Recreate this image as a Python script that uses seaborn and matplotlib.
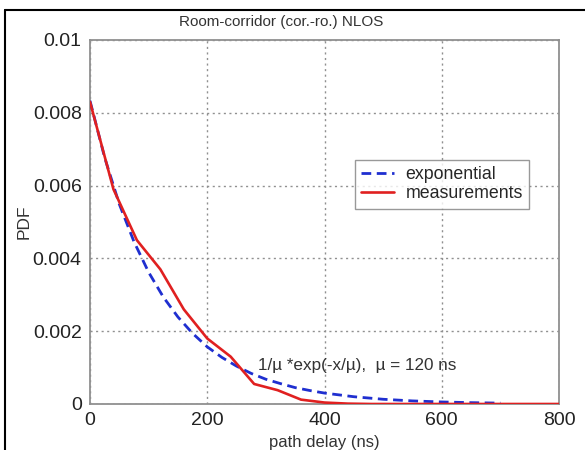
import numpy as np
import pandas as pd
import matplotlib
matplotlib.use("Agg")
import matplotlib.pyplot as plt
from matplotlib.lines import Line2D
import seaborn as sns

# ---- data ----
meas_x = [0, 40, 80, 120, 160, 200, 240, 280, 320, 360, 400, 440, 480, 520, 560, 600, 640, 680, 720, 760, 800]
meas_y = [0.0083, 0.0059, 0.0045, 0.0037, 0.0026, 0.0018, 0.0013, 0.00055, 0.00038, 0.00012,
          0.00004, 0.00001, 0, 0, 0, 0, 0, 0, 0, 0, 0]

expo_x = [0, 25, 50, 75, 100, 125, 150, 175, 200, 225, 250, 275, 300, 325, 350, 375, 400,
          450, 500, 550, 600, 650, 700]
expo_y = [0.00833, 0.00677, 0.00549, 0.00446, 0.00362, 0.00294, 0.00239, 0.00194, 0.00157,
          0.00128, 0.00104, 0.00084, 0.00068, 0.00056, 0.00045, 0.00037, 0.00030,
          0.00020, 0.00013, 0.000085, 0.000056, 0.000037, 0.000024]

x_ticks = [0, 200, 400, 600, 800]
y_ticks = [0, 0.002, 0.004, 0.006, 0.008, 0.01]
y_tick_labels = ["0", "0.002", "0.004", "0.006", "0.008", "0.01"]

title = "Room-corridor (cor.-ro.) NLOS"
x_label = "path delay (ns)"
y_label = "PDF"
note = "1/\u00b5 *exp(-x/\u00b5),  \u00b5 = 120 ns"

# ---- plotting ----
sns.set_style("white")
plt.rcParams['font.family'] = ['Liberation Sans', 'DejaVu Sans']

fig = plt.figure(figsize=(5.85, 4.5), dpi=100)
ax = fig.add_axes([90 / 585, 1 - 404 / 450, (559 - 90) / 585, (404 - 40) / 450])

df_e = pd.DataFrame({"x": expo_x, "y": expo_y})
df_m = pd.DataFrame({"x": meas_x, "y": meas_y})

sns.lineplot(data=df_e, x="x", y="y", ax=ax, color="#1f2fd0", lw=2.0,
             linestyle=(0, (3.5, 2)), zorder=3)
sns.lineplot(data=df_m, x="x", y="y", ax=ax, color="#e02020", lw=1.9, zorder=4)

ax.set_xlim(0, 800)
ax.set_ylim(0, 0.01)
ax.set_xticks(x_ticks)
ax.set_xticklabels([str(v) for v in x_ticks])
ax.set_yticks(y_ticks)
ax.set_yticklabels(y_tick_labels)
ax.tick_params(axis="both", direction="in", length=4, color="#808080",
               labelsize=14, labelcolor="#222222")
ax.tick_params(axis="y", pad=6)
ax.tick_params(axis="x", pad=6)
ax.grid(True, linestyle=(0, (1.5, 2.5)), color="#909090", lw=1.0)
for s in ax.spines.values():
    s.set_color("#909090")
    s.set_linewidth(1.3)

ax.set_xlabel(x_label, fontsize=12, color="#333333", labelpad=4)
ax.set_ylabel(y_label, fontsize=12.5, color="#333333", labelpad=1)
ax.set_title(title, fontsize=11, color="#333333", pad=10, x=0.407)

ax.text(287, 0.00107, note, fontsize=12.3, color="#333333", va="center", ha="left", zorder=5)

handles = [Line2D([0], [0], color="#1f2fd0", lw=2.0, linestyle=(0, (3.5, 2))),
           Line2D([0], [0], color="#e02020", lw=1.9)]
leg = ax.legend(handles, ["exponential", "measurements"], loc="upper left",
                bbox_to_anchor=(0.565, 0.67), fontsize=12.8, handlelength=1.85,
                frameon=True, fancybox=False, borderpad=0.35, labelspacing=0.12,
                handletextpad=0.65, borderaxespad=0)
leg.get_frame().set_edgecolor("#808080")
leg.get_frame().set_linewidth(1.0)

# outer frame (top and left, as in the reference screenshot)
fy = 1 - 10 / 450
fx = 5 / 585
fig.add_artist(Line2D([fx, 1], [fy, fy], transform=fig.transFigure, color="black", lw=1.5))
fig.add_artist(Line2D([fx, fx], [0, fy], transform=fig.transFigure, color="black", lw=1.5))

fig.savefig("out.png", dpi=100)
